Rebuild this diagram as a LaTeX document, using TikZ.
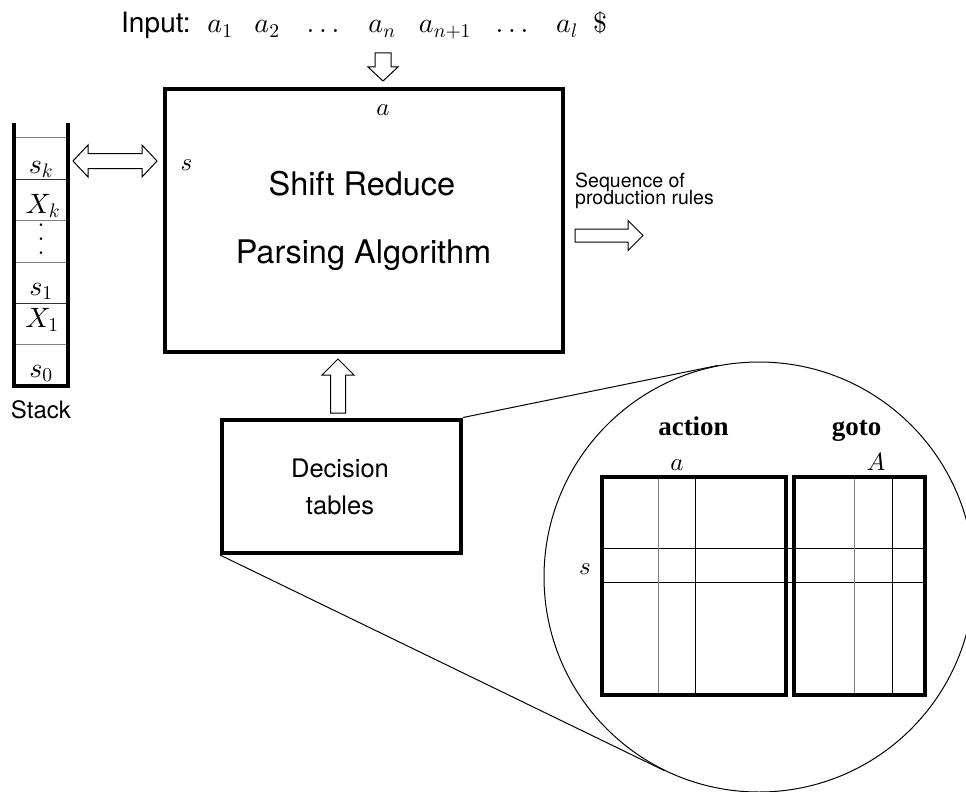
\documentclass[tikz,border=0pt]{standalone}
\DeclareFontShape{OML}{cmm}{m}{it}{<->cmmi10}{}
\DeclareFontShape{OT1}{cmr}{m}{n}{<->cmr10}{}
\DeclareFontShape{OMS}{cmsy}{m}{n}{<->cmsy10}{}
\usepackage[no-math]{fontspec}
\setmainfont{TeX Gyre Heros}
\newfontfamily\tmsfont{Liberation Serif}
\usetikzlibrary{calc}
\newcommand\myfs[1]{\fontsize{#1}{#1}\selectfont}
\newcommand\myvdots{\vbox{\baselineskip=14pt\lineskiplimit=-20pt\hbox{$.$}\hbox{$.$}\hbox{$.$}}}
\newcommand\blockarrow[5]{%
  \coordinate (bahead) at ($(#2)!#5pt!(#1)$);
  \draw[blockarr] ($(#1)!#3pt!90:(#2)$) -- ($(bahead)!#3pt!90:(#2)$) -- ($(bahead)!#4pt!90:(#2)$) -- (#2)
    -- ($(bahead)!#4pt!-90:(#2)$) -- ($(bahead)!#3pt!-90:(#2)$) -- ($(#1)!#3pt!-90:(#2)$) -- cycle;}
\newcommand\dblockarrow[5]{%
  \coordinate (dbaone) at ($(#1)!#5pt!(#2)$);
  \coordinate (dbatwo) at ($(#2)!#5pt!(#1)$);
  \draw[blockarr] (#1) -- ($(dbaone)!#4pt!90:(#2)$) -- ($(dbaone)!#3pt!90:(#2)$) -- ($(dbatwo)!#3pt!90:(#2)$)
    -- ($(dbatwo)!#4pt!90:(#2)$) -- (#2) -- ($(dbatwo)!#4pt!-90:(#2)$) -- ($(dbatwo)!#3pt!-90:(#2)$)
    -- ($(dbaone)!#3pt!-90:(#2)$) -- ($(dbaone)!#4pt!-90:(#2)$) -- cycle;}
\tikzset{
  bigbox/.style={draw, line width=4pt, inner sep=0pt},
  blockarr/.style={draw, line width=1pt, fill=white, line join=miter},
  thinline/.style={line width=1pt},
  grayline/.style={line width=1pt, draw=black!50},
  mth/.style={font=\myfs{25}, anchor=base, inner sep=0pt},
  mthbig/.style={font=\myfs{28}, anchor=base, inner sep=0pt},
  inputtxt/.style={font=\myfs{28}, anchor=base west, inner sep=0pt},
  algtxt/.style={font=\myfs{32.5}, anchor=base, inner sep=0pt},
  dectxt/.style={font=\myfs{25.5}, anchor=base, inner sep=0pt},
  seqtxt/.style={font=\myfs{19.5}, anchor=base west, inner sep=0pt},
  stacktxt/.style={font=\myfs{24}, anchor=base, inner sep=0pt},
  tbltxt/.style={font=\tmsfont\bfseries\myfs{27}, anchor=base, inner sep=0pt},
}
\begin{document}
\begin{tikzpicture}[x=1pt, y=-1pt, line join=miter]
\useasboundingbox (0,0) rectangle (966,792);

% input line
\node[inputtxt] (inlabel) at (121,33) {Input:};
\node[mthbig] (a1) at (220,33) {$a_1$};
\node[mthbig] (a2) at (267,33) {$a_2$};
\node[mthbig] (d1) at (323,33) {$\ldots$};
\node[mthbig] (an) at (382,33) {$a_n$};
\node[mthbig] (an1) at (445,33) {$a_{n+1}$};
\node[mthbig] (d2) at (512,33) {$\ldots$};
\node[mthbig] (al) at (567,33) {$a_l$};
\node[mthbig] (dol) at (600,33) {$\$$};

% main box
\node[bigbox, minimum width=398.5pt, minimum height=263pt] (main) at (363.75,220.5) {};
\node[algtxt] (alg1) at (362,195) {Shift Reduce};
\node[algtxt] (alg2) at (363.5,263) {Parsing Algorithm};
\node[mth] (ma) at (383,115) {$a$};
\node[mth] (ms) at (186.5,170.5) {$s$};

% input arrow
\coordinate (inA) at (383,53);
\coordinate (inB) at ($(ma |- main.north)+(0,-6)$);
\blockarrow{inA}{inB}{8}{15}{14}

% output arrow
\node[seqtxt] (seq1) at (575,187) {Sequence of};
\node[seqtxt] (seq2) at (575,204.5) {production rules};
\coordinate (rA) at ($(main.east)+(10,15)$);
\coordinate (rB) at ($(rA)+(68,0)$);
\blockarrow{rA}{rB}{6.5}{15}{15}

% stack
\draw[grayline] (14,137) -- (68,137);
\draw[line width=1pt, draw=black!80] (14,179) -- (68,179);
\draw[grayline] (14,220) -- (68,220);
\draw[grayline] (14,262) -- (68,262);
\draw[line width=1pt, draw=black!80] (14,303) -- (68,303);
\draw[grayline] (14,344) -- (68,344);
\draw[line width=4pt] (14,123) -- (14,386) -- (68,386) -- (68,123);
\node[mthbig] (sk) at (41,173) {$s_k$};
\node[mthbig] (Xk) at (43,213) {$X_k$};
\node[font=\myfs{25}, inner sep=0pt] (vd) at (41,239) {\myvdots};
\node[mthbig] (s1) at (41,295) {$s_1$};
\node[mthbig] (X1) at (42,327) {$X_1$};
\node[mthbig] (s0) at (41,377) {$s_0$};
\node[stacktxt] (stk) at (41,418) {Stack};

\coordinate (dl) at (73,161);
\coordinate (dr) at ($(main.west |- dl)+(-5.5,0)$);
\dblockarrow{dl}{dr}{7.5}{16}{15}

% decision box
\node[bigbox, minimum width=239pt, minimum height=133.5pt] (dec) at (341.5,486.25) {};
\node[dectxt] (dec1) at (340,477) {Decision};
\node[dectxt] (dec2) at (340,514) {tables};
\coordinate (upA) at ($(dec.north)+(-3.5,-4.5)$);
\coordinate (upB) at ($(upA |- main.south)+(0,5)$);
\blockarrow{upA}{upB}{7.5}{16}{16}

% zoom circle
\node[draw, circle, line width=1pt, minimum size=430pt, inner sep=0pt] (zc) at (759,577) {};
\draw[thinline] (dec.north east) -- (zc.101.55);
\draw[thinline] (dec.south west) -- (zc.244.1);

% tables
\draw[thinline] (602,548) -- (925,548);
\draw[thinline] (602,582) -- (925,582);
\draw[grayline] (658,477) -- (658,695);
\draw[thinline] (695,477) -- (695,695);
\draw[grayline] (854,477) -- (854,695);
\draw[thinline] (892,477) -- (892,695);
\node[bigbox, minimum width=184pt, minimum height=218pt] (act) at (694,586) {};
\node[bigbox, minimum width=131.3pt, minimum height=218pt] (gto) at (859.35,586) {};
\node[tbltxt] (lact) at (693.5,435) {action};
\node[tbltxt] (lgoto) at (856.7,435) {goto};
\node[mth] (ta) at (677,470) {$a$};
\node[mth] (tA) at (876,470) {$A$};
\node[mth] (ts) at (585,574) {$s$};
\end{tikzpicture}
\end{document}
